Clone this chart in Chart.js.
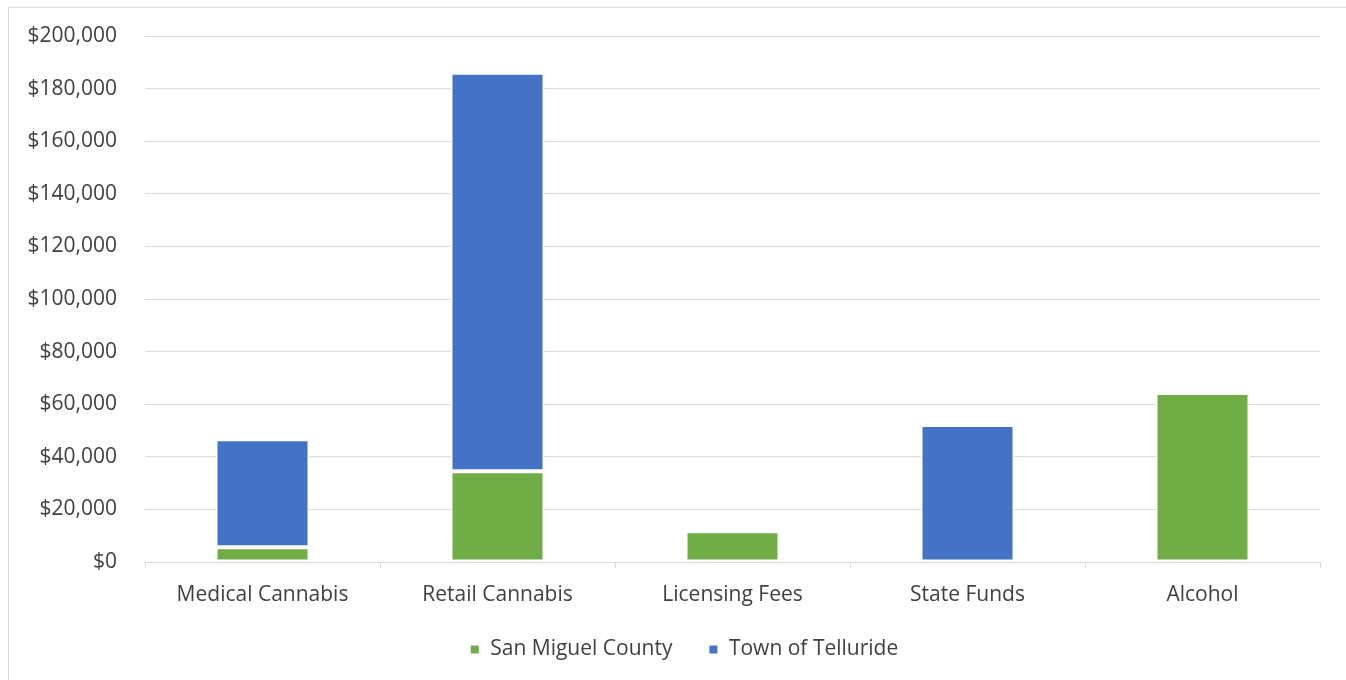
<!DOCTYPE html>
<html>
<head>
<meta charset="utf-8">
<script src="https://cdn.jsdelivr.net/npm/chart.js@4.4.1/dist/chart.umd.min.js"></script>
<style>
  html, body { margin: 0; padding: 0; background: #ffffff; }
  #wrap { position: relative; width: 1346px; height: 680px; overflow: hidden; }
  #frame { position: absolute; left: 8px; top: 7px; width: 1400px; height: 700px; border: 1px solid #d9d9d9; box-sizing: border-box; pointer-events: none; }
  canvas { position: absolute; left: 0; top: 0; }
</style>
</head>
<body>
<div id="wrap">
  <div id="frame"></div>
  <canvas id="chart" width="1346" height="680"></canvas>
</div>
<script>
// Revenue sources by recipient
const categories = ['Medical Cannabis', 'Retail Cannabis', 'Licensing Fees', 'State Funds', 'Alcohol'];
const sanMiguelCounty = [5600, 34500, 11700, null, 64300];
const townOfTelluride = [41100, 151500, null, 52100, null];
const yTicks = [0, 20000, 40000, 60000, 80000, 100000, 120000, 140000, 160000, 180000, 200000];

const FONT = 'Open Sans';
const FONT_SIZE = 21;
const TEXT = '#404040';
const GRID = '#d9d9d9';
const money = new Intl.NumberFormat('en-US');

// Pull the legend up towards the category labels and centre it under the bars
const legendNudge = {
  id: 'legendNudge',
  afterLayout(chart) {
    const lg = chart.legend;
    if (lg) {
      lg.top -= 6; lg.bottom -= 6;
      lg.left += 24; lg.right += 24;
    }
  }
};

new Chart(document.getElementById('chart'), {
  type: 'bar',
  data: {
    labels: categories,
    datasets: [
      {
        label: 'San Miguel County',
        data: sanMiguelCounty,
        backgroundColor: '#70ad47',
        borderColor: '#ffffff',
        borderWidth: 2,
        borderSkipped: false
      },
      {
        label: 'Town of Telluride',
        data: townOfTelluride,
        backgroundColor: '#4472c4',
        borderColor: '#ffffff',
        borderWidth: 2,
        borderSkipped: false
      }
    ]
  },
  plugins: [legendNudge],
  options: {
    responsive: false,
    animation: false,
    devicePixelRatio: 1,
    layout: { padding: { left: 0, right: 26, top: 36, bottom: 4 } },
    datasets: { bar: { categoryPercentage: 1.0, barPercentage: 0.4 } },
    scales: {
      x: {
        stacked: true,
        afterFit: (scale) => { scale.height = 47; },
        grid: { drawOnChartArea: false, drawTicks: true, tickLength: 6, color: GRID, offset: true },
        border: { color: GRID, width: 1 },
        ticks: { color: TEXT, font: { family: FONT, size: FONT_SIZE }, padding: 14 }
      },
      y: {
        stacked: true,
        min: 0,
        max: 200000,
        afterBuildTicks: (scale) => { scale.ticks = yTicks.map(v => ({ value: v })); },
        afterFit: (scale) => { scale.width = 145; scale.paddingTop = 0; scale.paddingBottom = 0; },
        grid: { color: GRID, lineWidth: 1, drawTicks: false },
        border: { display: false },
        ticks: {
          color: TEXT,
          font: { family: FONT, size: FONT_SIZE },
          padding: 28,
          callback: (v) => '$' + money.format(v)
        }
      }
    },
    plugins: {
      tooltip: { enabled: false },
      legend: {
        position: 'bottom',
        labels: {
          color: TEXT,
          font: { family: FONT, size: FONT_SIZE },
          boxWidth: 10,
          boxHeight: 10,
          padding: 36
        }
      }
    }
  }
});
</script>
</body>
</html>
